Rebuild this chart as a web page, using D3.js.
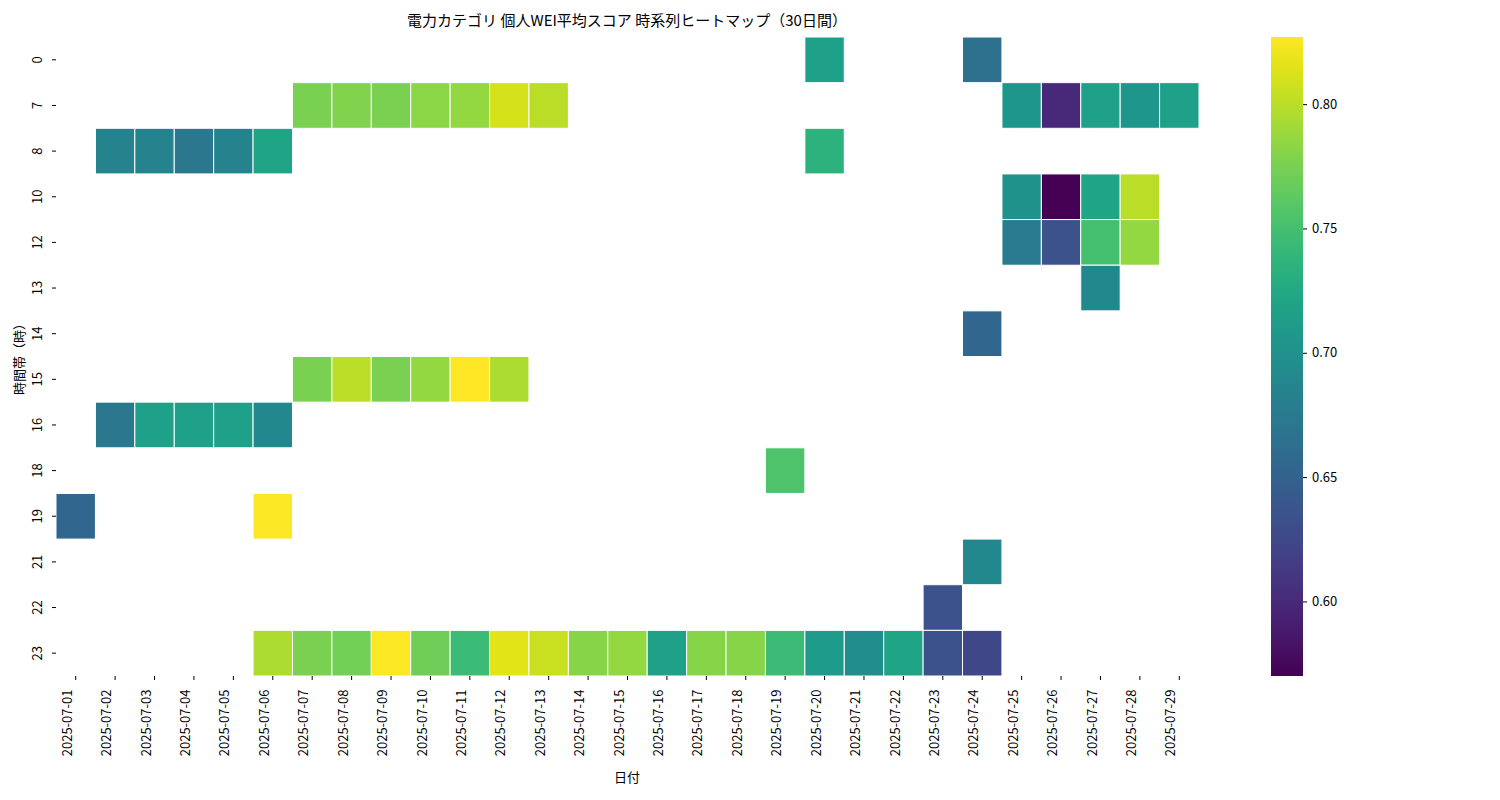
<!DOCTYPE html>
<html><head><meta charset="utf-8">
<script src="https://cdn.jsdelivr.net/npm/d3@7"></script>
<style>body{margin:0;background:#fff}text{font-family:"Noto Sans CJK JP","Noto Sans",sans-serif}</style>
</head><body><svg id="c" width="1500" height="800"></svg>
<script>
const dates = d3.range(1,30).map(d=>"2025-07-"+String(d).padStart(2,"0"));
const hours = [0,7,8,10,12,13,14,15,16,18,19,21,22,23];
// [hour, day, value]
const cells = [
[0,20,0.715],[0,24,0.665],
[7,7,0.775],[7,8,0.778],[7,9,0.775],[7,10,0.782],[7,11,0.785],[7,12,0.81],[7,13,0.80],[7,25,0.705],[7,26,0.60],[7,27,0.715],[7,28,0.705],[7,29,0.715],
[8,2,0.685],[8,3,0.685],[8,4,0.672],[8,5,0.685],[8,6,0.72],[8,20,0.735],
[10,25,0.70],[10,26,0.57],[10,27,0.72],[10,28,0.80],
[12,25,0.675],[12,26,0.635],[12,27,0.75],[12,28,0.785],
[13,27,0.69],[14,24,0.655],
[15,7,0.775],[15,8,0.80],[15,9,0.775],[15,10,0.785],[15,11,0.827],[15,12,0.795],
[16,2,0.672],[16,3,0.715],[16,4,0.715],[16,5,0.715],[16,6,0.69],
[18,19,0.755],[19,1,0.655],[19,6,0.825],[21,24,0.69],[22,23,0.635],
[23,6,0.795],[23,7,0.775],[23,8,0.772],[23,9,0.825],[23,10,0.77],[23,11,0.745],[23,12,0.815],[23,13,0.805],[23,14,0.78],[23,15,0.785],[23,16,0.715],[23,17,0.78],[23,18,0.78],[23,19,0.745],[23,20,0.71],[23,21,0.695],[23,22,0.72],[23,23,0.635],[23,24,0.625]
];
const vmin=0.57, vmax=0.827;
const cbTicks=[0.60,0.65,0.70,0.75,0.80];
const svg=d3.select("#c");
const L=56,R=1199,T=37,B=676;
const x=d3.scaleBand().domain(dates).range([L,R]);
const y=d3.scaleBand().domain(hours).range([T,B]);
const col=d3.scaleSequential(d3.interpolateViridis).domain([vmin,vmax]);
svg.append("g").selectAll("rect").data(cells).join("rect")
 .attr("x",d=>x(dates[d[1]-1])).attr("y",d=>y(d[0]))
 .attr("width",x.bandwidth()).attr("height",y.bandwidth())
 .attr("fill",d=>col(d[2])).attr("stroke","#fff").attr("stroke-width",1);
const xa=svg.append("g").attr("transform",`translate(0,${B})`).call(d3.axisBottom(x).tickSize(4).tickPadding(3));
xa.select(".domain").remove();
xa.selectAll("text").attr("transform","rotate(-90)").attr("text-anchor","end").attr("dx","-0.5em").attr("dy","-0.3em").attr("x",-7).attr("y",0).style("font-size","13px").attr("fill","#000");
const ya=svg.append("g").attr("transform",`translate(${L},0)`).call(d3.axisLeft(y).tickSize(4).tickPadding(3));
ya.select(".domain").remove();
ya.selectAll("text").attr("transform",d=>`rotate(-90,-10,${0})`).attr("x",-10).attr("dx",0).attr("dy","-0.2em").attr("text-anchor","middle").style("font-size","13px").attr("fill","#000");
ya.selectAll("text").attr("transform","rotate(-90)").attr("x",0).attr("y",-14).attr("dy","0").attr("text-anchor","middle");
svg.append("text").attr("x",627).attr("y",26).attr("text-anchor","middle").style("font-size","15px").text("電力カテゴリ 個人WEI平均スコア 時系列ヒートマップ（30日間）");
svg.append("text").attr("x",627).attr("y",782).attr("text-anchor","middle").style("font-size","13px").text("日付");
svg.append("text").attr("transform","translate(24,356) rotate(-90)").attr("text-anchor","middle").style("font-size","13px").text("時間帯（時）");
// colorbar
const cx=1271,cw=32;
const cy=d3.scaleLinear().domain([vmin,vmax]).range([B,T]);
const defs=svg.append("defs");
const g=defs.append("linearGradient").attr("id","vg").attr("x1",0).attr("x2",0).attr("y1",1).attr("y2",0);
d3.range(0,1.001,0.05).forEach(t=>g.append("stop").attr("offset",t).attr("stop-color",d3.interpolateViridis(t)));
svg.append("rect").attr("x",cx).attr("y",T).attr("width",cw).attr("height",B-T).attr("fill","url(#vg)");
const ca=svg.append("g").attr("transform",`translate(${cx+cw},0)`).call(d3.axisRight(cy).tickValues(cbTicks).tickFormat(d3.format(".2f")).tickSize(4).tickPadding(5));
ca.select(".domain").remove();
ca.selectAll("text").style("font-size","13px").attr("fill","#000");
</script></body></html>
